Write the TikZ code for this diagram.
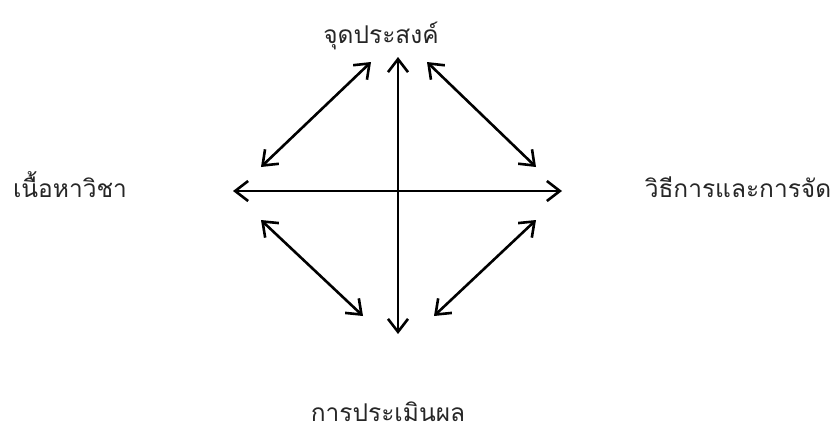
\documentclass[tikz,border=0pt]{standalone}
\usepackage{fontspec}
\newfontfamily\thaifont[Script=Thai]{Loma}
\usetikzlibrary{arrows.meta}
\begin{document}
\begin{tikzpicture}[x=1pt,y=-1pt,
  lbl/.style={font=\thaifont\fontsize{24.5}{29}\selectfont, anchor=base, inner sep=0pt, text=black!85},
  dbl/.style={line width=2.6pt, line cap=round, {Straight Barb[length=13pt,width=20pt,line width=2.6pt]}-{Straight Barb[length=13pt,width=20pt,line width=2.6pt]}}]
\useasboundingbox (0,0) rectangle (839,434);
\node[lbl] (top) at (381,43) {จุดประสงค์};
\node[lbl] (left) at (70,197) {เนื้อหาวิชา};
\node[lbl] (right) at (738,197) {วิธีการและการจัด};
\node[lbl] (bot) at (388,421) {การประเมินผล};
\coordinate (vt) at (398,57);
\coordinate (vb) at (398,334);
\coordinate (hl) at (233,191);
\coordinate (hr) at (562,191);
\coordinate (a1) at (371,62);
\coordinate (a2) at (261,167);
\coordinate (b1) at (427,62);
\coordinate (b2) at (536,167);
\coordinate (c1) at (261,220);
\coordinate (c2) at (363,316);
\coordinate (d1) at (536,220);
\coordinate (d2) at (434,316);
\draw[dbl] (vt) -- (vb);
\draw[dbl] (hl) -- (hr);
\draw[dbl] (a1) -- (a2);
\draw[dbl] (b1) -- (b2);
\draw[dbl] (c1) -- (c2);
\draw[dbl] (d1) -- (d2);
\end{tikzpicture}
\end{document}
